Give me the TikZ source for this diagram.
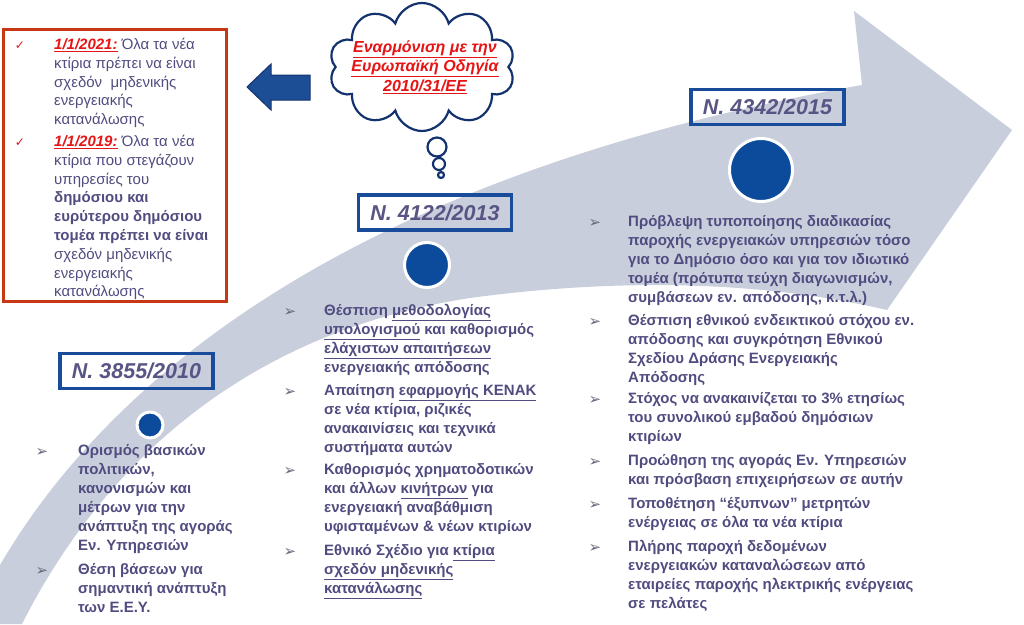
\documentclass[tikz,border=0pt]{standalone}
\usepackage{fontspec}
\setmainfont{Liberation Sans}
\newfontfamily\symfont{DejaVu Sans}
\usetikzlibrary{shapes.symbols}

\definecolor{arrowgrey}{RGB}{201,206,221}
\definecolor{txtcol}{RGB}{80,76,128}
\definecolor{headcol}{RGB}{88,84,132}
\definecolor{boxblue}{RGB}{25,75,155}
\definecolor{dotblue}{RGB}{12,75,155}
\definecolor{frame}{RGB}{200,55,20}
\definecolor{redtxt}{RGB}{230,20,20}
\definecolor{cloudline}{RGB}{20,50,110}
\definecolor{leftblue}{RGB}{28,78,150}
\definecolor{bulgrey}{RGB}{105,105,125}

\newcommand{\redlab}[1]{\textcolor{redtxt}{\bfseries\itshape\underline{#1}}}

\tikzset{
  lawbox/.style={draw=boxblue, line width=3.5pt, minimum width=153pt, minimum height=35pt,
    inner sep=0pt, text=headcol, font=\bfseries\itshape\fontsize{21.5}{24}\selectfont},
  lawdot/.style={circle, fill=dotblue, draw=white, line width=3pt, inner sep=0pt},
  lawitem/.style={anchor=north west, inner sep=0pt, align=left, text=txtcol,
    font=\bfseries\fontsize{15}{19}\selectfont},
  boxitem/.style={anchor=north west, inner sep=0pt, align=left, text=txtcol,
    font=\fontsize{15}{18.8}\selectfont},
  arrbul/.style={inner sep=0pt, text=bulgrey, font=\symfont\fontsize{15}{15}\selectfont},
  tick/.style={inner sep=0pt, text=redtxt, font=\symfont\fontsize{12}{12}\selectfont},
  bubble/.style={circle, draw=cloudline, fill=white, line width=2.2pt, inner sep=0pt},
}

\begin{document}
\begin{tikzpicture}[x=1pt, y=-1pt]
    \useasboundingbox (0,0) rectangle (1024,624);

    % Big curved arrow in the background
    \fill[arrowgrey] (0,565) .. controls (120,360) and (380,170) .. (862,85)
        -- (854,11) -- (1012,130) -- (887,310)
        .. controls (780,285) and (640,275) .. (470,298)
        .. controls (260,330) and (110,450) .. (22,624) -- (0,624) -- cycle;

    % Red framed box, top left
    \node[draw=frame, line width=3pt, minimum width=223pt, minimum height=272pt, inner sep=0pt]
        (rbox) at (115,165.5) {};
    \node[boxitem] (r1) at (54,38) {\redlab{1/1/2021:} Όλα τα νέα\\κτίρια πρέπει να είναι\\σχεδόν\ \ μηδενικής\\ενεργειακής\\κατανάλωσης};
    \node[boxitem] (r2) at (54,135) {\redlab{1/1/2019:} Όλα τα νέα\\κτίρια που στεγάζουν\\υπηρεσίες του\\\textbf{δημόσιου και}\\\textbf{ευρύτερου δημόσιου}\\\textbf{τομέα πρέπει να είναι}\\σχεδόν μηδενικής\\ενεργειακής\\κατανάλωσης};
    \node[tick] (k1) at (20,46) {✓};
    \node[tick] (k2) at (20,143) {✓};

    % Blue arrow pointing to the box
    \filldraw[fill=leftblue, draw=cloudline, line width=1pt]
        (247,87) -- (271,64) -- (271,75) -- (310,75) -- (310,100) -- (271,100) -- (271,110) -- cycle;

    % Thought cloud
    \node[cloud, cloud puffs=10, cloud ignores aspect, draw=cloudline, fill=white, line width=2.2pt,
        minimum width=186pt, minimum height=128pt] (cld) at (422,67) {};
    \node[align=center, text=redtxt, font=\bfseries\itshape\fontsize{16}{19.5}\selectfont]
        (cldtxt) at (425,67) {\underline{Εναρμόνιση με την}\\\underline{Ευρωπαϊκή Οδηγία}\\\underline{2010/31/ΕΕ}};
    \node[bubble, minimum size=19pt] (bb1) at (437,147) {};
    \node[bubble, minimum size=12pt] (bb2) at (439,164) {};
    \node[bubble, minimum size=6pt] (bb3) at (441,175) {};

    % N. 3855/2010
    \node[lawbox] (law1) at (136.5,371) {N. 3855/2010};
    \node[lawdot, minimum size=26pt] (dot1) at (150,425) {};
    \node[lawitem] (t1) at (78,444) {Ορισμός βασικών\\πολιτικών,\\κανονισμών και\\μέτρων για την\\ανάπτυξη της αγοράς\\Εν. Υπηρεσιών};
    \node[lawitem] (t2) at (78,563) {Θέση βάσεων για\\σημαντική ανάπτυξη\\των Ε.Ε.Υ.};
    \node[arrbul] (p1) at (42,452) {➢};
    \node[arrbul] (p2) at (42,571) {➢};

    % N. 4122/2013
    \node[lawbox] (law2) at (435,212.5) {N. 4122/2013};
    \node[lawdot, minimum size=45pt] (dot2) at (427,265) {};
    \node[lawitem] (u1) at (324,304) {Θέσπιση \underline{μεθοδολογίας}\\\underline{υπολογισμού} και καθορισμός\\\underline{ελάχιστων απαιτήσεων}\\ενεργειακής απόδοσης};
    \node[lawitem] (u2) at (324,384) {Απαίτηση \underline{εφαρμογής ΚΕΝΑΚ}\\σε νέα κτίρια, ριζικές\\ανακαινίσεις και τεχνικά\\συστήματα αυτών};
    \node[lawitem] (u3) at (324,463) {Καθορισμός χρηματοδοτικών\\και άλλων \underline{κινήτρων} για\\ενεργειακή αναβάθμιση\\υφισταμένων \& νέων κτιρίων};
    \node[lawitem] (u4) at (324,544) {Εθνικό Σχέδιο για \underline{κτίρια}\\\underline{σχεδόν μηδενικής}\\\underline{κατανάλωσης}};
    \node[arrbul] (q1) at (290,312) {➢};
    \node[arrbul] (q2) at (290,392) {➢};
    \node[arrbul] (q3) at (290,471) {➢};
    \node[arrbul] (q4) at (290,552) {➢};

    % N. 4342/2015
    \node[lawbox] (law3) at (767.5,107) {N. 4342/2015};
    \node[lawdot, minimum size=63pt] (dot3) at (761,170) {};
    \node[lawitem] (v1) at (628,215) {Πρόβλεψη τυποποίησης διαδικασίας\\παροχής ενεργειακών υπηρεσιών τόσο\\για το Δημόσιο όσο και για τον ιδιωτικό\\τομέα (πρότυπα τεύχη διαγωνισμών,\\συμβάσεων εν. απόδοσης, κ.τ.λ.)};
    \node[lawitem] (v2) at (628,314) {Θέσπιση εθνικού ενδεικτικού στόχου εν.\\απόδοσης και συγκρότηση Εθνικού\\Σχεδίου Δράσης Ενεργειακής\\Απόδοσης};
    \node[lawitem] (v3) at (628,392) {Στόχος να ανακαινίζεται το 3\% ετησίως\\του συνολικού εμβαδού δημόσιων\\κτιρίων};
    \node[lawitem] (v4) at (628,454) {Προώθηση της αγοράς Εν. Υπηρεσιών\\και πρόσβαση επιχειρήσεων σε αυτήν};
    \node[lawitem] (v5) at (628,497) {Τοποθέτηση “έξυπνων” μετρητών\\ενέργειας σε όλα τα νέα κτίρια};
    \node[lawitem] (v6) at (628,540) {Πλήρης παροχή δεδομένων\\ενεργειακών καταναλώσεων από\\εταιρείες παροχής ηλεκτρικής ενέργειας\\σε πελάτες};
    \node[arrbul] (s1) at (595,223) {➢};
    \node[arrbul] (s2) at (595,322) {➢};
    \node[arrbul] (s3) at (595,400) {➢};
    \node[arrbul] (s4) at (595,462) {➢};
    \node[arrbul] (s5) at (595,505) {➢};
    \node[arrbul] (s6) at (595,548) {➢};
\end{tikzpicture}
\end{document}
